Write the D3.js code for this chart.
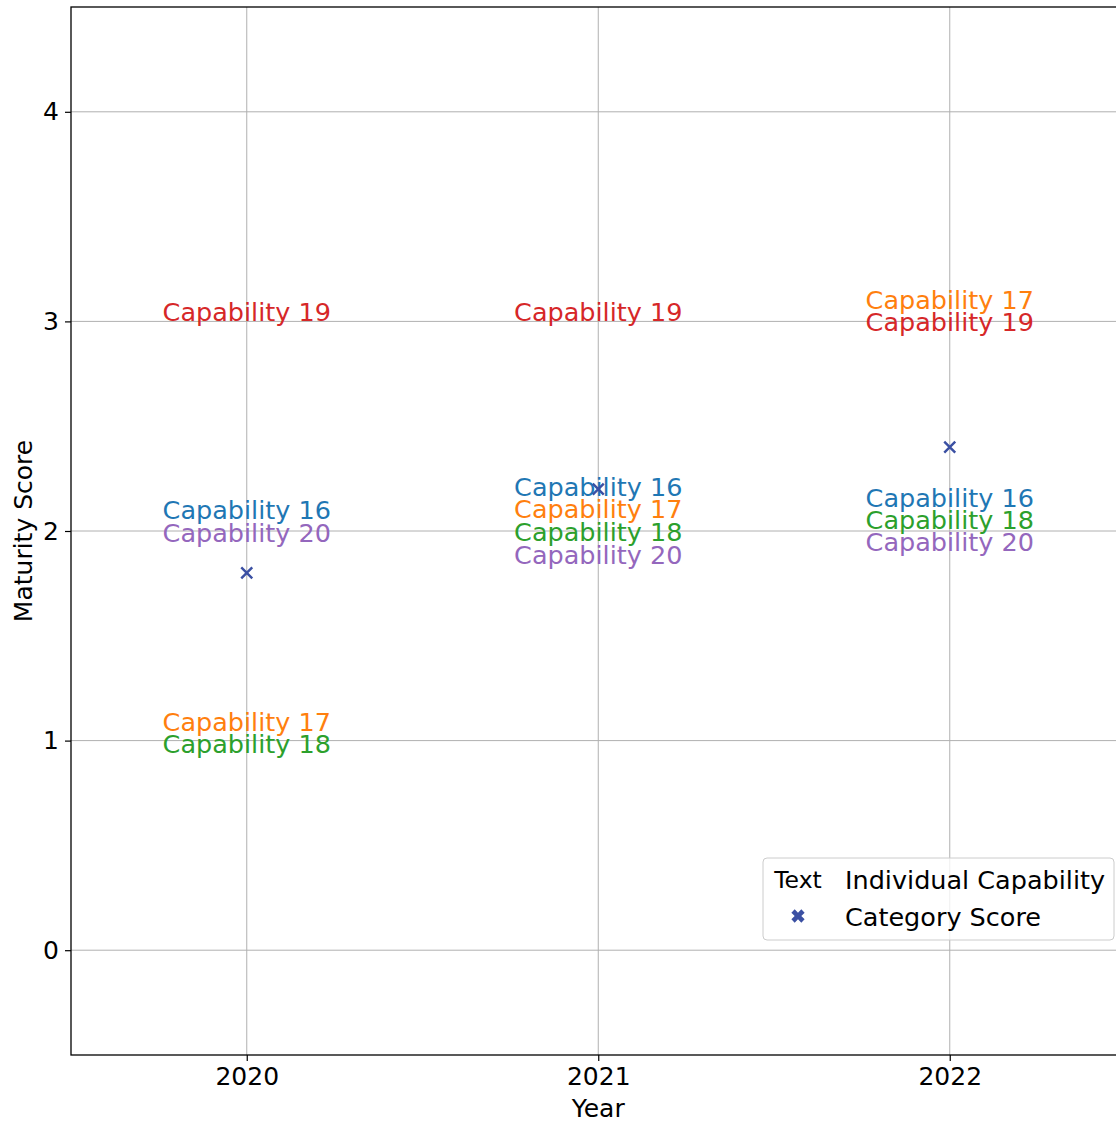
<!DOCTYPE html>
<html><head><meta charset="utf-8">
<script src="https://cdn.jsdelivr.net/npm/d3@7"></script>
<style>body{margin:0;background:#fff;} text{font-family:"DejaVu Sans",sans-serif;}</style>
</head><body>
<svg id="chart" width="1116" height="1122"></svg>
<script>
const years = [2020, 2021, 2022];
const capabilities = ["Capability 16", "Capability 17", "Capability 18", "Capability 19", "Capability 20"];
const capColors = ["#1f77b4", "#ff7f0e", "#2ca02c", "#d62728", "#9467bd"];
// maturity score of each capability per year
const scores2020 = [2, 1, 1, 3, 2];
const scores2021 = [2, 2, 2, 3, 2];
const scores2022 = [2, 3, 2, 3, 2];
// displayed label positions (after overlap adjustment) per year
const labelY2020 = [2.055, 1.045, 0.942, 3.0, 1.947];
const labelY2021 = [2.166, 2.063, 1.951, 3.0, 1.843];
const labelY2022 = [2.115, 3.059, 2.010, 2.952, 1.904];
const categoryScores = [1.8, 2.2, 2.4];
const yTicks = [0, 1, 2, 3, 4];
const xLabel = "Year", yLabel = "Maturity Score";
const legendLabels = ["Individual Capability", "Category Score"];

const FS = 25.5;
const svg = d3.select("#chart");
const L = 71, T = 7, B = 1055;
const x = d3.scaleLinear().domain([2019.5, 2022.5]).range([L, L + 1054.5]);
const y = d3.scaleLinear().domain([-0.5, 4.5]).range([B, T]);
const R = x.range()[1];

// grid
svg.append("g").selectAll("line").data(years).join("line")
  .attr("x1", d => x(d)).attr("x2", d => x(d)).attr("y1", T).attr("y2", B)
  .attr("stroke", "#b0b0b0").attr("stroke-width", 1);
svg.append("g").selectAll("line").data(yTicks).join("line")
  .attr("x1", L).attr("x2", R).attr("y1", d => y(d)).attr("y2", d => y(d))
  .attr("stroke", "#b0b0b0").attr("stroke-width", 1);

// axes
const xAxis = d3.axisBottom(x).tickValues(years).tickFormat(d3.format("d")).tickSize(6).tickPadding(6);
const yAxis = d3.axisLeft(y).tickValues(yTicks).tickFormat(d3.format("d")).tickSize(6).tickPadding(6);
const gx = svg.append("g").attr("transform", `translate(0,${B})`).call(xAxis);
const gy = svg.append("g").attr("transform", `translate(${L},0)`).call(yAxis);
[gx, gy].forEach(g => {
  g.select(".domain").remove();
  g.selectAll(".tick line").attr("stroke", "#000").attr("stroke-width", 1.2);
  g.selectAll(".tick text").attr("font-size", 25).attr("fill", "#000").style("font-family", "DejaVu Sans");
});
// spines
svg.append("rect").attr("x", L).attr("y", T).attr("width", R - L).attr("height", B - T)
  .attr("fill", "none").attr("stroke", "#000").attr("stroke-width", 1.3);

// axis labels
svg.append("text").attr("x", x(2021)).attr("y", 1117).attr("text-anchor", "middle")
  .attr("font-size", 25).text(xLabel);
svg.append("text").attr("transform", `translate(32,${y(2)}) rotate(-90)`).attr("text-anchor", "middle")
  .attr("font-size", 25).text(yLabel);

// labels
const labelSets = [labelY2020, labelY2021, labelY2022];
const scoreSets = [scores2020, scores2021, scores2022];
const items = [];
years.forEach((yr, i) => capabilities.forEach((c, j) => items.push({yr, c, v: scoreSets[i][j], ly: labelSets[i][j], col: capColors[j]})));
svg.append("g").selectAll("text").data(items).join("text")
  .attr("x", d => x(d.yr)).attr("y", d => y(d.ly)).attr("text-anchor", "middle")
  .attr("font-size", FS).attr("fill", d => d.col).text(d => d.c);

// category crosses
const crossColor = "#3b50a3";
const s = 5.5;
svg.append("g").selectAll("path").data(years.map((yr, i) => ({yr, v: categoryScores[i]}))).join("path")
  .attr("d", d => { const cx = x(d.yr), cy = y(d.v); return `M${cx-s},${cy-s}L${cx+s},${cy+s}M${cx-s},${cy+s}L${cx+s},${cy-s}`; })
  .attr("stroke", crossColor).attr("stroke-width", 2.4).attr("fill", "none");

// legend
const lg = svg.append("g");
lg.append("rect").attr("x", 763).attr("y", 858).attr("width", 351).attr("height", 82).attr("rx", 4)
  .attr("fill", "#fff").attr("fill-opacity", 0.8).attr("stroke", "#cccccc").attr("stroke-width", 1);
lg.append("text").attr("x", 798).attr("y", 888).attr("text-anchor", "middle").attr("font-size", 23.5).text("Text");
lg.append("text").attr("x", 845).attr("y", 889).attr("font-size", FS).text(legendLabels[0]);
lg.append("path").attr("transform", "translate(798,916) rotate(45)")
  .attr("d", d3.symbol(d3.symbolCross, 110)()).attr("fill", crossColor);
lg.append("text").attr("x", 845).attr("y", 926).attr("font-size", FS).text(legendLabels[1]);
</script>
</body></html>
